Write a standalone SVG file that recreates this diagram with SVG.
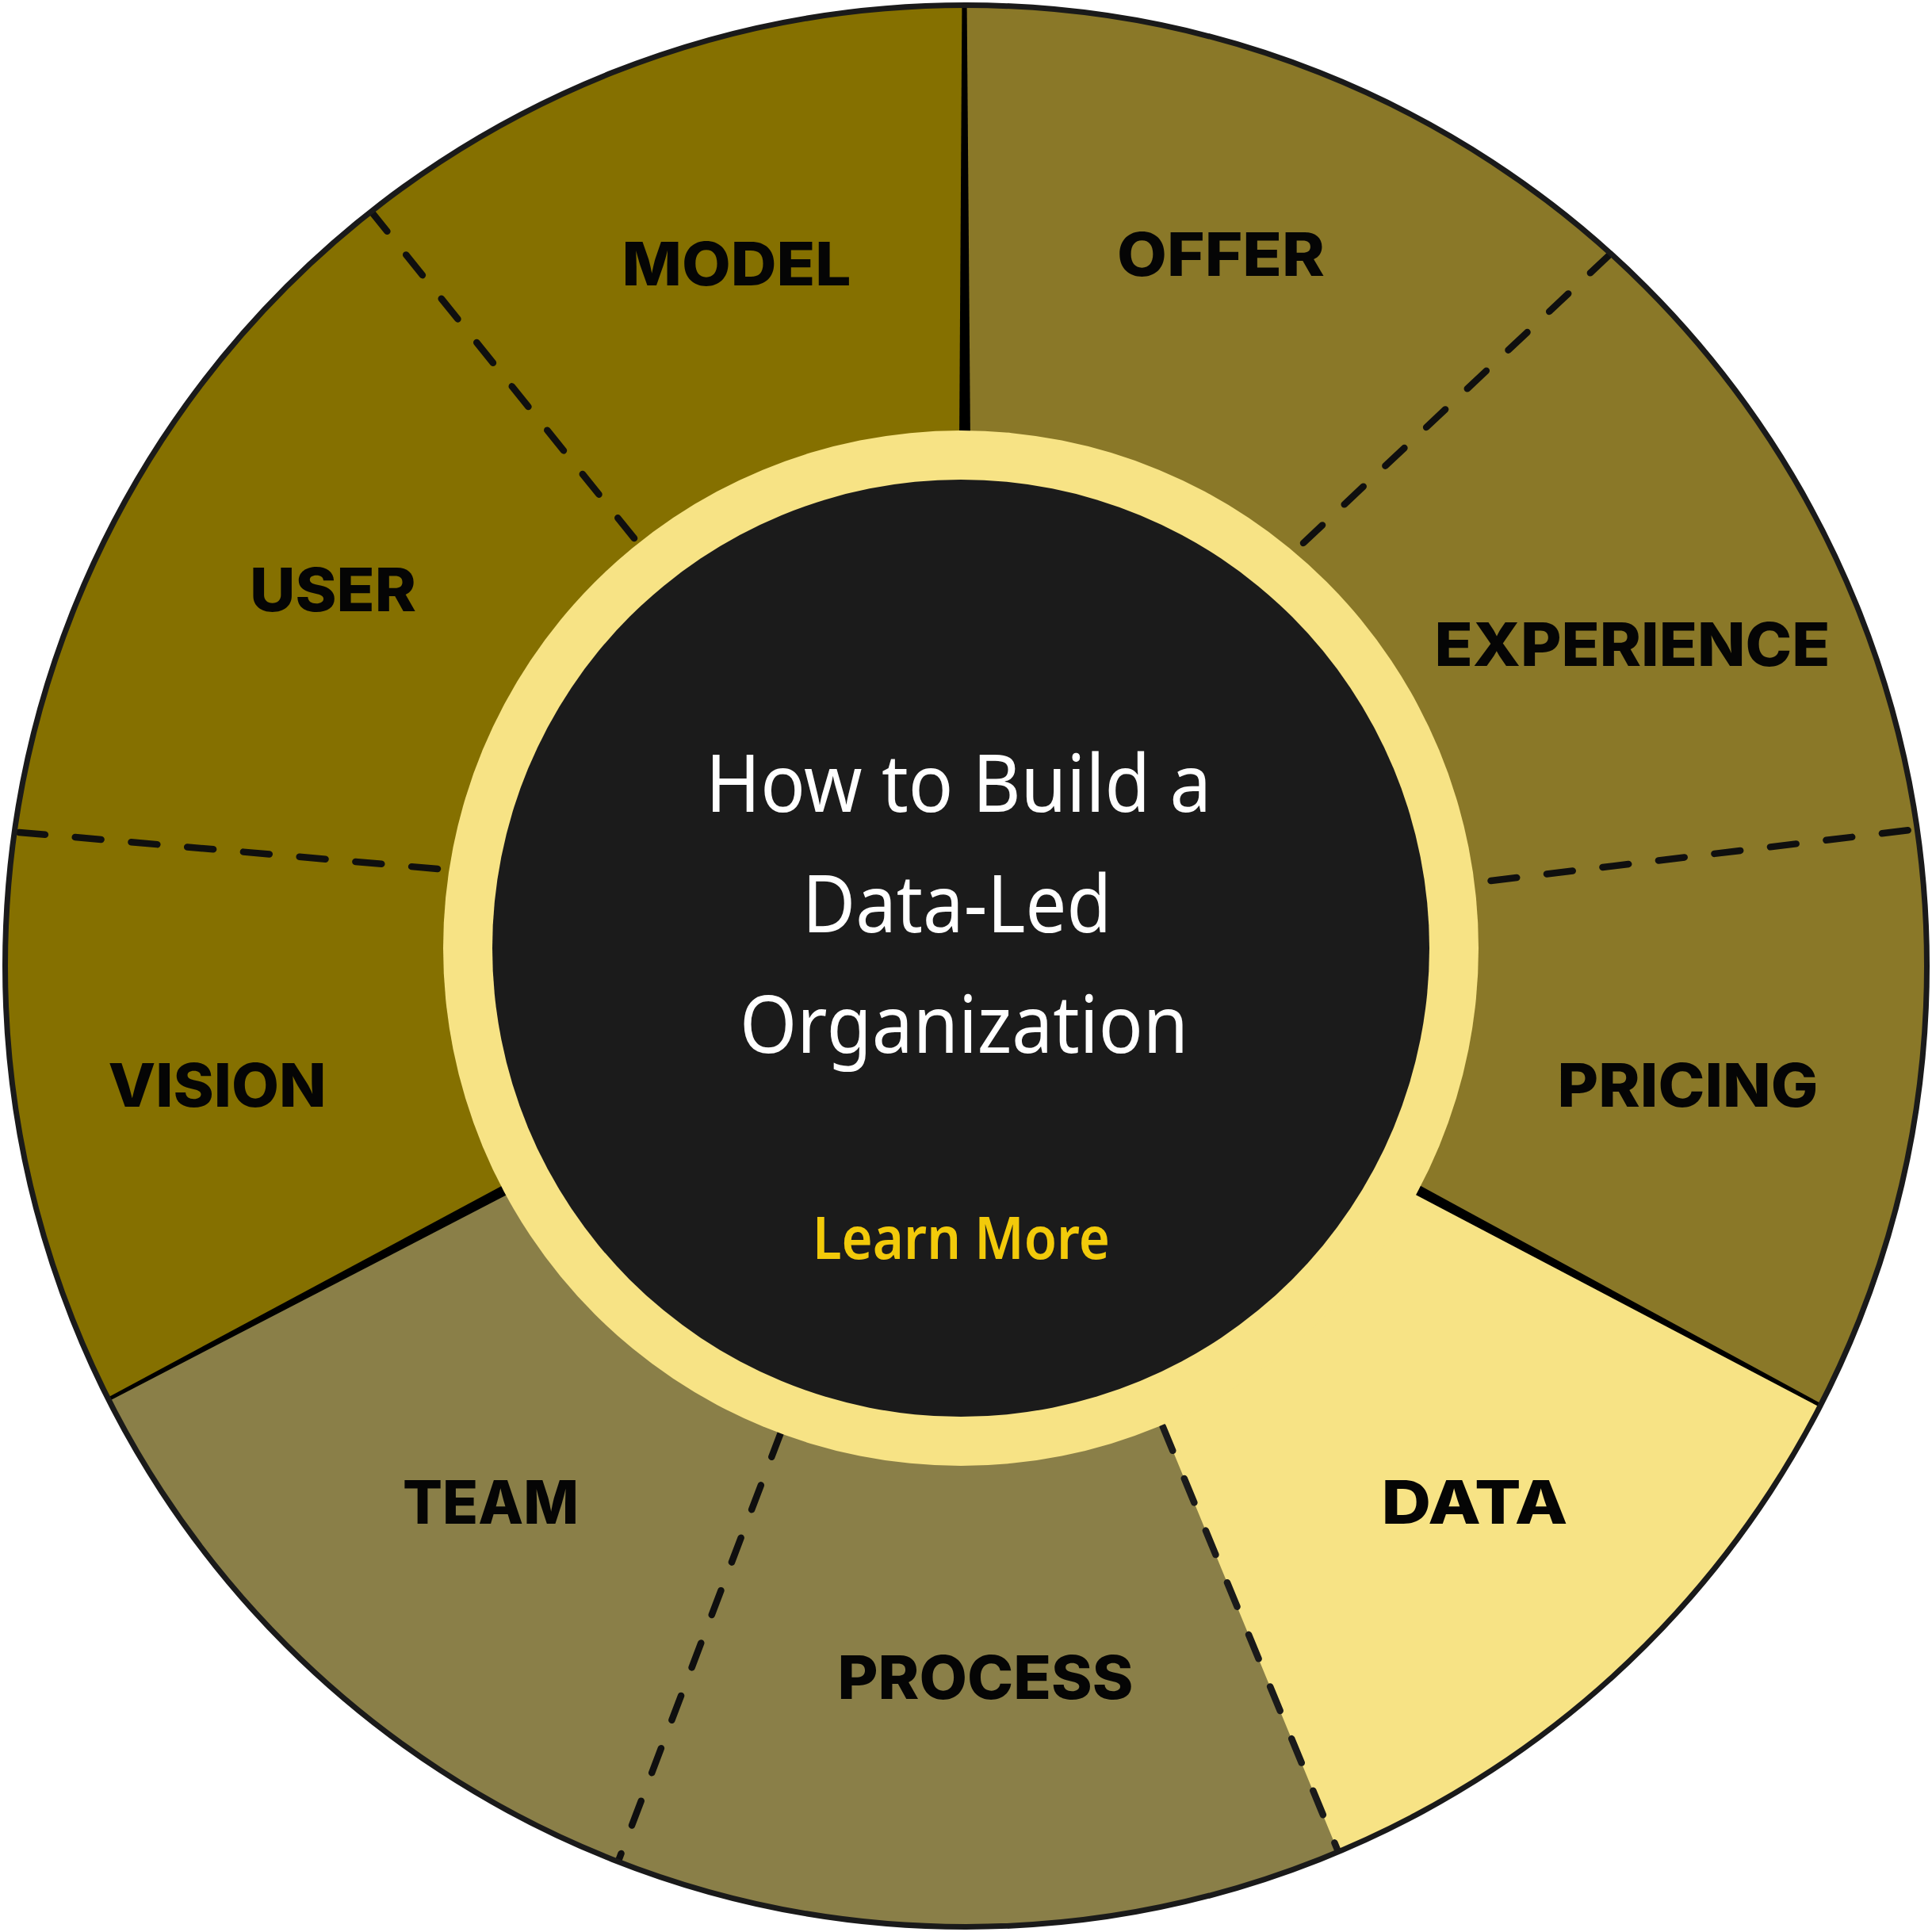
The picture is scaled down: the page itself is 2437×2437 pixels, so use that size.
<svg xmlns="http://www.w3.org/2000/svg" width="2437" height="2437" viewBox="0 0 2437 2437">
<defs>
<clipPath id="disc"><circle cx="1218.5" cy="1218.5" r="1212"/></clipPath>
<style>
.lbl{font-family:Inter,"Liberation Sans",sans-serif;font-weight:800;font-size:75px;fill:#050505;text-anchor:middle}
.title{font-family:"Noto Sans","Open Sans",sans-serif;font-weight:400;font-size:101px;fill:#ffffff;text-anchor:middle}
.cta{font-family:"Noto Sans","Open Sans",sans-serif;font-weight:600;font-size:74px;fill:#F2CA0A;text-anchor:middle}
.dash{fill:none;stroke:#0f0f0f;stroke-width:8.5;stroke-linecap:round;stroke-dasharray:33 38}
.wedge{fill:#000000}
</style>
</defs>
<rect width="2437" height="2437" fill="#ffffff"/>
<g clip-path="url(#disc)">
  <g id="seg-team-process"><rect x="0" y="0" width="2437" height="2437" fill="#8A7F48"/></g>
  <g id="seg-data"><polygon points="1212,1196 1790,1502 2540,1906 2540,2540 1772,2540 1466.7,1799.3" fill="#F7E385"/></g>
  <g id="seg-model-user-vision"><polygon points="1216,-10 1216,1196 634,1502 -100,1892 -100,-10" fill="#857000"/></g>
  <g id="seg-offer-experience-pricing"><polygon points="1216,-10 2540,-10 2540,1906 1790,1502 1216,1196" fill="#8A7828"/></g>
  <g id="connectors">
    <polygon class="wedge" points="1213.5,-5 1219.5,-5 1224,560 1210,560"/>
    <polygon class="wedge" points="648.6,1487.5 129,1766.4 131.7,1770.2 655.4,1498.8"/>
    <polygon class="wedge" points="1776.4,1487.5 2303.3,1773.8 2300.8,1777.8 1769.4,1498.5"/>
    <path class="dash" d="M800,679 L462,259"/>
    <path class="dash" d="M552,1096 L2,1048"/>
    <path class="dash" d="M1644,685 L2036,316"/>
    <path class="dash" d="M1880.5,1111 L2426,1045"/>
    <path class="dash" d="M985,1807 L779,2350"/>
    <path class="dash" style="stroke:#1a1a1a" d="M1466.7,1799.3 L1689,2338"/>
  </g>
</g>
<g id="hub">
  <circle cx="1212" cy="1196" r="653" fill="#F7E385"/>
  <circle cx="1212" cy="1196" r="591" fill="#1B1B1B"/>
</g>
<circle id="rim" cx="1218.5" cy="1218.5" r="1212" fill="none" stroke="#1A1A1A" stroke-width="7"/>
<g id="labels">
  <g id="node-model"><text class="lbl" x="929" y="360" textLength="289" lengthAdjust="spacingAndGlyphs">MODEL</text></g>
  <g id="node-offer"><text class="lbl" x="1540" y="348" textLength="262" lengthAdjust="spacingAndGlyphs">OFFER</text></g>
  <g id="node-user"><text class="lbl" x="420" y="771" textLength="210" lengthAdjust="spacingAndGlyphs">USER</text></g>
  <g id="node-experience"><text class="lbl" x="2059" y="840" textLength="499" lengthAdjust="spacingAndGlyphs">EXPERIENCE</text></g>
  <g id="node-vision"><text class="lbl" x="274" y="1396" textLength="275" lengthAdjust="spacingAndGlyphs">VISION</text></g>
  <g id="node-pricing"><text class="lbl" x="2129" y="1396" textLength="329" lengthAdjust="spacingAndGlyphs">PRICING</text></g>
  <g id="node-team"><text class="lbl" x="619" y="1922" textLength="222" lengthAdjust="spacingAndGlyphs">TEAM</text></g>
  <g id="node-data"><text class="lbl" x="1860" y="1922" textLength="235" lengthAdjust="spacingAndGlyphs">DATA</text></g>
  <g id="node-process"><text class="lbl" x="1243" y="2143" textLength="373" lengthAdjust="spacingAndGlyphs">PROCESS</text></g>
</g>
<g id="center-text">
  <text class="title" x="1209" y="1024" textLength="638" lengthAdjust="spacingAndGlyphs">How to Build a</text>
  <text class="title" x="1207" y="1176" textLength="390" lengthAdjust="spacingAndGlyphs">Data-Led</text>
  <text class="title" x="1216" y="1328" textLength="566" lengthAdjust="spacingAndGlyphs">Organization</text>
  <text class="cta" x="1212.5" y="1588" textLength="375" lengthAdjust="spacingAndGlyphs">Learn More</text>
</g>
</svg>
